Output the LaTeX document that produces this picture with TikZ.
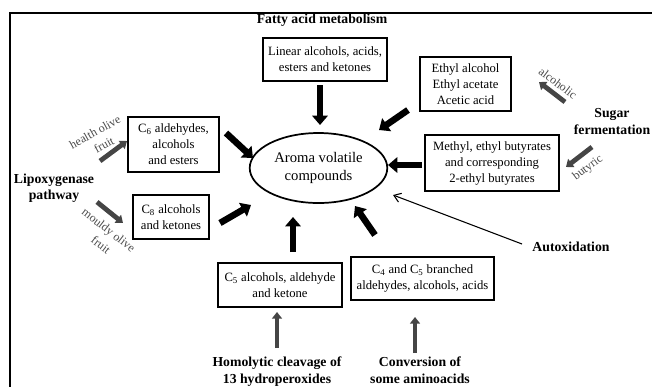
\documentclass[tikz,border=0pt]{standalone}
\usepackage{fontspec}
\setmainfont{Liberation Serif}
\usetikzlibrary{arrows.meta,shapes.geometric}
\definecolor{darkarrow}{HTML}{454545}
\definecolor{labelgray}{HTML}{4a4a4a}
\tikzset{
  box/.style={draw=black,line width=1.4pt,align=center,inner sep=1pt,
    font=\fontsize{9.5}{12}\selectfont},
  head/.style={font=\bfseries\fontsize{10.3}{12.3}\selectfont,align=center,inner sep=0pt},
  side/.style={font=\fontsize{9}{9.5}\selectfont,text=labelgray,inner sep=0pt},
  bigarrow/.style={line width=4.9pt,-{Triangle[width=11.5pt,length=7pt]}},
  grayarrow/.style={draw=darkarrow,line width=3.6pt,-{Triangle[width=7.5pt,length=5pt]},darkarrow},
  thinarrow/.style={line width=0.8pt,-{Straight Barb[length=5pt,width=7pt]}},
}
\begin{document}
\begin{tikzpicture}[x=0.75pt,y=-0.75pt]
\useasboundingbox (0,0) rectangle (652,387);
% frame
\draw[line width=1pt] (652,13) -- (10,13) -- (10,387);

% central ellipse
\node[ellipse,draw,line width=1.3pt,minimum width=127*0.75pt,minimum height=70*0.75pt,
  align=center,font=\fontsize{11}{14}\selectfont] (ell) at (318.5,168) {Aroma volatile\\compounds};

% boxes
\node[box,minimum width=124*0.75pt,minimum height=43*0.75pt] (lin) at (325,59.5) {Linear alcohols, acids,\\esters and ketones};
\node[box,minimum width=91*0.75pt,minimum height=54*0.75pt] (eth) at (465.5,84) {Ethyl alcohol\\Ethyl acetate\\Acetic acid};
\node[box,minimum width=134*0.75pt,minimum height=56*0.75pt] (met) at (492,163) {Methyl, ethyl butyrates\\and corresponding\\2-ethyl butyrates};
\node[box,minimum width=91*0.75pt,minimum height=55*0.75pt] (csix) at (173.5,144.5) {C\textsubscript{6} aldehydes,\\alcohols\\and esters};
\node[box,minimum width=76*0.75pt,minimum height=44*0.75pt] (ceight) at (171,217) {C\textsubscript{8} alcohols\\and ketones};
\node[box,minimum width=124*0.75pt,minimum height=44*0.75pt] (cfive) at (280,285) {C\textsubscript{5} alcohols, aldehyde\\and ketone};
\node[box,minimum width=143*0.75pt,minimum height=43*0.75pt] (cfour) at (422.5,278.5) {C\textsubscript{4} and C\textsubscript{5} branched\\aldehydes, alcohols, acids};

% headings
\node[head] (fatty) at (322,20) {Fatty acid metabolism};
\node[head] (sugar) at (612,121.5) {Sugar\\fermentation};
\node[head] (lipo) at (54,188.5) {Lipoxygenase\\pathway};
\node[head,anchor=north] (homo) at (277,357) {Homolytic cleavage of\\13 hydroperoxides};
\node[head,anchor=north] (conv) at (420,357) {Conversion of\\some aminoacids};
\node[head] (autox) at (571,247) {Autoxidation};

% side labels
\node[side,rotate=29] (health) at (95,132) {health olive};
\node[side,rotate=29] (healthb) at (104,145) {fruit};
\node[side,rotate=-38] (mouldy) at (108,231) {mouldy olive};
\node[side,rotate=-38] (mouldyb) at (101,245) {fruit};
\node[side,rotate=-37] (alco) at (558,83) {alcoholic};
\node[side,rotate=37] (buty) at (588,168) {butyric};

% arrow end points
\coordinate (a1s) at (320,85);  \coordinate (a1e) at (320,125);
\coordinate (a2s) at (408,110); \coordinate (a2e) at (379,130);
\coordinate (a3s) at (422,165); \coordinate (a3e) at (388,165);
\coordinate (a4s) at (226,133); \coordinate (a4e) at (253,158);
\coordinate (a5s) at (220,223); \coordinate (a5e) at (251,205);
\coordinate (a6s) at (293,252); \coordinate (a6e) at (293,217);
\coordinate (a7s) at (375,235); \coordinate (a7e) at (355,206);

\coordinate (g1s) at (100,161); \coordinate (g1e) at (127,141);
\coordinate (g2s) at (97,202);  \coordinate (g2e) at (123,223);
\coordinate (g3s) at (565,102); \coordinate (g3e) at (539,82);
\coordinate (g4s) at (592,147); \coordinate (g4e) at (566,167);
\coordinate (g5s) at (277,348); \coordinate (g5e) at (277,312);
\coordinate (g6s) at (415,353); \coordinate (g6e) at (415,317);
\coordinate (t1s) at (522,244); \coordinate (t1e) at (393,195);

\draw[bigarrow] (a1s) -- (a1e);
\draw[bigarrow] (a2s) -- (a2e);
\draw[bigarrow] (a3s) -- (a3e);
\draw[bigarrow] (a4s) -- (a4e);
\draw[bigarrow] (a5s) -- (a5e);
\draw[bigarrow] (a6s) -- (a6e);
\draw[bigarrow] (a7s) -- (a7e);

\draw[grayarrow] (g1s) -- (g1e);
\draw[grayarrow] (g2s) -- (g2e);
\draw[grayarrow] (g3s) -- (g3e);
\draw[grayarrow] (g4s) -- (g4e);
\draw[grayarrow] (g5s) -- (g5e);
\draw[grayarrow] (g6s) -- (g6e);

\draw[thinarrow] (t1s) -- (t1e);
\end{tikzpicture}
\end{document}
